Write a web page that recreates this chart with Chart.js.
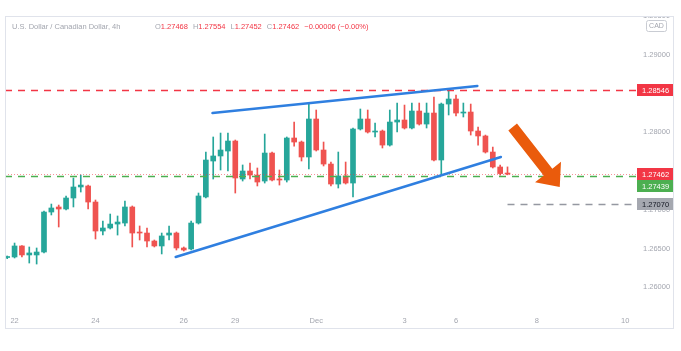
<!DOCTYPE html>
<html>
<head>
<meta charset="utf-8">
<script src="https://cdn.jsdelivr.net/npm/chart.js@4.4.1/dist/chart.umd.min.js"></script>
<style>
  html, body { margin: 0; padding: 0; background: #ffffff; }
  #wrap { width: 681px; height: 351px; position: relative; }
</style>
</head>
<body>
<div id="wrap"><canvas id="myChart"></canvas></div>
<script>
// USD/CAD 4h candles, 22 Nov -> 7 Dec
const opens = [1.26385, 1.26392, 1.26534, 1.26418, 1.26418, 1.26456, 1.26972, 1.27037, 1.27011, 1.27153,
  1.27295, 1.27308, 1.27101, 1.26727, 1.26766, 1.26817, 1.26830, 1.27037, 1.26714, 1.26701,
  1.26598, 1.26534, 1.26675, 1.26701, 1.26508, 1.26495, 1.26830, 1.27166, 1.27630, 1.27695,
  1.27759, 1.27888, 1.27398, 1.27501, 1.27449, 1.27372, 1.27733, 1.27398, 1.27385, 1.27927,
  1.27875, 1.27682, 1.28172, 1.27772, 1.27591, 1.27333, 1.27437, 1.27346, 1.28043, 1.28172,
  1.28004, 1.28017, 1.27836, 1.28133, 1.28159, 1.28056, 1.28275, 1.28107, 1.28249, 1.27643,
  1.28365, 1.28430, 1.28249, 1.28262, 1.28017, 1.27953, 1.27746, 1.27553, 1.27468]
const highs = [1.26405, 1.26572, 1.26540, 1.26521, 1.26508, 1.26985, 1.27075, 1.27062, 1.27179, 1.27411,
  1.27449, 1.27320, 1.27127, 1.26856, 1.26946, 1.26921, 1.27114, 1.27050, 1.26792, 1.26766,
  1.26611, 1.26701, 1.26792, 1.26714, 1.26521, 1.26856, 1.27217, 1.27746, 1.27940, 1.27991,
  1.27991, 1.27901, 1.27579, 1.27604, 1.27540, 1.27978, 1.27746, 1.27514, 1.27940, 1.28133,
  1.27888, 1.28378, 1.28288, 1.27875, 1.27617, 1.27746, 1.27617, 1.28056, 1.28301, 1.28288,
  1.28120, 1.28030, 1.28288, 1.28378, 1.28352, 1.28378, 1.28378, 1.28378, 1.28456, 1.28378,
  1.28546, 1.28481, 1.28378, 1.28365, 1.28069, 1.27965, 1.27810, 1.27579, 1.27554]
const lows = [1.26370, 1.26379, 1.26392, 1.26314, 1.26301, 1.26444, 1.26934, 1.26779, 1.26998, 1.27037,
  1.27230, 1.27011, 1.26624, 1.26675, 1.26753, 1.26675, 1.26792, 1.26521, 1.26611, 1.26521,
  1.26521, 1.26431, 1.26611, 1.26482, 1.26469, 1.26482, 1.26817, 1.27153, 1.27398, 1.27514,
  1.27501, 1.27217, 1.27372, 1.27398, 1.27308, 1.27346, 1.27372, 1.27320, 1.27359, 1.27823,
  1.27630, 1.27527, 1.27759, 1.27566, 1.27308, 1.27282, 1.27333, 1.27166, 1.28030, 1.27991,
  1.27940, 1.27798, 1.27823, 1.28004, 1.28043, 1.28043, 1.28094, 1.28056, 1.27630, 1.27462,
  1.28224, 1.28211, 1.28198, 1.27965, 1.27836, 1.27733, 1.27540, 1.27449, 1.27452]
const closes = [1.26392, 1.26534, 1.26418, 1.26444, 1.26456, 1.26972, 1.27024, 1.27011, 1.27153, 1.27295,
  1.27320, 1.27101, 1.26727, 1.26766, 1.26817, 1.26843, 1.27037, 1.26701, 1.26701, 1.26598,
  1.26534, 1.26663, 1.26701, 1.26508, 1.26482, 1.26830, 1.27179, 1.27643, 1.27695, 1.27772,
  1.27888, 1.27411, 1.27501, 1.27449, 1.27359, 1.27733, 1.27385, 1.27385, 1.27927, 1.27875,
  1.27682, 1.28172, 1.27772, 1.27591, 1.27333, 1.27437, 1.27346, 1.28043, 1.28172, 1.28004,
  1.28017, 1.27836, 1.28133, 1.28159, 1.28056, 1.28275, 1.28107, 1.28249, 1.27643, 1.28365,
  1.28430, 1.28249, 1.28262, 1.28017, 1.27953, 1.27746, 1.27553, 1.27468, 1.27462]

// time axis: label and the candle index where it sits
const dayLabels = ['22', '24', '26', '29', 'Dec', '3', '6', '8', '10']
const dayIndex = [1, 12, 24, 31, 42, 54, 61, 72, 84]
const priceTicks = [1.26, 1.265, 1.27, 1.275, 1.28, 1.285, 1.29]

// drawings
const resistance = 1.28546
const target = 1.27070
const greenLevel = 1.27439
const upperTrend = [[27.9, 1.28249], [63.9, 1.28598]]
const lowerTrend = [[22.9, 1.26392], [67.1, 1.27682]]
const arrowLine = [[68.7, 1.28069], [75.1, 1.27295]]

const UP = '#26a69a'
const DOWN = '#ef5350'
const FONT = '"Liberation Sans", Arial, sans-serif'

const idx = opens.map((_, i) => i)
const candleColors = idx.map(i => closes[i] >= opens[i] ? UP : DOWN)
const last = opens.length - 1

const drawings = {
  id: 'drawings',
  afterDatasetsDraw(chart) {
    const ctx = chart.ctx
    const xs = chart.scales.x, ys = chart.scales.y
    const area = chart.chartArea
    const px = v => xs.getPixelForValue(v)
    const py = v => ys.getPixelForValue(v)

    const hline = (price, x0, x1, color, w, dash) => {
      ctx.save()
      ctx.strokeStyle = color
      ctx.lineWidth = w
      ctx.setLineDash(dash)
      ctx.beginPath()
      ctx.moveTo(x0, Math.round(py(price)) + 0.5)
      ctx.lineTo(x1, Math.round(py(price)) + 0.5)
      ctx.stroke()
      ctx.restore()
    }

    ctx.save()
    ctx.beginPath()
    ctx.rect(area.left, area.top, area.right - area.left, area.bottom - area.top)
    ctx.clip()

    // current price line
    hline(closes[last], area.left, area.right, 'rgba(242,54,69,0.55)', 1, [1, 2])
    hline(resistance, area.left, area.right, '#f23645', 1.5, [7, 6])
    hline(greenLevel, area.left, area.right, '#4caf50', 1.5, [7, 6])
    hline(target, px(last), area.right, '#9598a1', 1.5, [7, 6])

    // trend lines
    ctx.strokeStyle = '#2f7fe0'
    ctx.lineWidth = 2.5
    ctx.lineCap = 'round'
    for (const seg of [upperTrend, lowerTrend]) {
      ctx.beginPath()
      ctx.moveTo(px(seg[0][0]), py(seg[0][1]))
      ctx.lineTo(px(seg[1][0]), py(seg[1][1]))
      ctx.stroke()
    }

    // arrow
    const ax0 = px(arrowLine[0][0]), ay0 = py(arrowLine[0][1])
    const ax1 = px(arrowLine[1][0]), ay1 = py(arrowLine[1][1])
    const len = Math.hypot(ax1 - ax0, ay1 - ay0)
    const ux = (ax1 - ax0) / len, uy = (ay1 - ay0) / len
    const nx = -uy, ny = ux
    const shaft = 5.5, head = 16.5, headLen = 19
    const bx = ax1 - ux * headLen, by = ay1 - uy * headLen
    ctx.fillStyle = '#ea5b0c'
    ctx.beginPath()
    ctx.moveTo(ax0 + nx * shaft, ay0 + ny * shaft)
    ctx.lineTo(bx + nx * shaft, by + ny * shaft)
    ctx.lineTo(bx + nx * head, by + ny * head)
    ctx.lineTo(ax1, ay1)
    ctx.lineTo(bx - nx * head, by - ny * head)
    ctx.lineTo(bx - nx * shaft, by - ny * shaft)
    ctx.lineTo(ax0 - nx * shaft, ay0 - ny * shaft)
    ctx.closePath()
    ctx.fill()
    ctx.restore()
  },
  afterDraw(chart) {
    const ctx = chart.ctx
    const ys = chart.scales.y
    const area = chart.chartArea
    const py = v => ys.getPixelForValue(v)
    const left = 5.5, top = 16.5, right = 673.5, bottom = 328.5

    ctx.save()
    // panel frame
    ctx.strokeStyle = '#e0e3eb'
    ctx.lineWidth = 1
    ctx.strokeRect(left, top, right - left, bottom - top)

    // clipped top tick label
    ctx.save()
    ctx.beginPath()
    ctx.rect(area.right, top + 0.5, 40, 20)
    ctx.clip()
    ctx.font = '7.5px ' + FONT
    ctx.fillStyle = '#a3a6af'
    ctx.textBaseline = 'middle'
    ctx.fillText('1.29500', area.right + 6, py(1.295))
    ctx.restore()

    // currency box
    ctx.strokeStyle = '#c9ccd3'
    ctx.beginPath()
    ctx.roundRect(646.5, 20.5, 20, 11, 2)
    ctx.stroke()
    ctx.fillStyle = '#a3a6af'
    ctx.font = '7px ' + FONT
    ctx.textAlign = 'center'
    ctx.textBaseline = 'middle'
    ctx.fillText('CAD', 656.5, 26.5)

    // price labels on the axis
    const tag = (price, y, bg, fg) => {
      ctx.fillStyle = bg
      ctx.fillRect(area.right, Math.round(y) - 6, 36, 12)
      ctx.fillStyle = fg
      ctx.font = '7.5px ' + FONT
      ctx.textAlign = 'left'
      ctx.textBaseline = 'middle'
      ctx.fillText(price.toFixed(5), area.right + 5, Math.round(y) + 0.5)
    }
    tag(resistance, py(resistance), '#f23645', '#ffffff')
    tag(closes[last], py(closes[last]), '#f23645', '#ffffff')
    tag(greenLevel, py(closes[last]) + 12, '#4caf50', '#ffffff')
    tag(target, py(target), '#a5a8b0', '#131722')

    // legend line
    ctx.font = '7.5px ' + FONT
    ctx.textAlign = 'left'
    ctx.textBaseline = 'middle'
    ctx.fillStyle = '#a3a6af'
    ctx.fillText('U.S. Dollar / Canadian Dollar, 4h', 12, 27)
    const red = '#f23645'
    let x = 155
    const parts = [['O', opens[last]], ['H', highs[last]], ['L', lows[last]], ['C', closes[last]]]
    for (const [k, v] of parts) {
      ctx.fillStyle = '#a3a6af'
      ctx.fillText(k, x, 27)
      x += ctx.measureText(k).width
      ctx.fillStyle = red
      const s = v.toFixed(5)
      ctx.fillText(s, x, 27)
      x += ctx.measureText(s).width + 5
    }
    const chg = closes[last] - closes[last - 1]
    const pct = chg / closes[last - 1] * 100
    ctx.fillStyle = red
    ctx.fillText('\u2212' + Math.abs(chg).toFixed(5) + ' (\u2212' + Math.abs(pct).toFixed(2) + '%)', x, 27)
    ctx.restore()
  }
}

new Chart(document.getElementById('myChart'), {
  type: 'bar',
  data: {
    datasets: [
      {
        label: 'wick',
        data: idx.map(i => ({ x: i, y: [lows[i], highs[i]] })),
        backgroundColor: candleColors,
        barThickness: 1,
        grouped: false,
        order: 2
      },
      {
        label: 'body',
        data: idx.map(i => ({ x: i, y: [opens[i], closes[i]] })),
        backgroundColor: candleColors,
        barThickness: 5,
        minBarLength: 1,
        grouped: false,
        order: 1
      }
    ]
  },
  options: {
    responsive: true,
    maintainAspectRatio: false,
    animation: false,
    devicePixelRatio: 1,
    layout: { padding: { left: 5, right: 8, top: 17, bottom: 23 } },
    plugins: { legend: { display: false }, tooltip: { enabled: false } },
    scales: {
      x: {
        type: 'linear',
        offset: false,
        min: -0.3,
        max: 85.6,
        grid: { display: false, drawTicks: false },
        border: { display: false },
        afterBuildTicks: s => { s.ticks = dayIndex.map(v => ({ value: v })) },
        afterFit: s => { s.height = 18 },
        ticks: {
          autoSkip: false,
          maxRotation: 0,
          padding: 6,
          color: '#a3a6af',
          font: { family: FONT, size: 7.5 },
          callback: v => dayLabels[dayIndex.indexOf(v)]
        }
      },
      y: {
        position: 'right',
        min: 1.25708,
        max: 1.29488,
        grid: { display: false, drawTicks: false },
        border: { display: false },
        afterBuildTicks: s => { s.ticks = priceTicks.map(v => ({ value: v })) },
        afterFit: s => { s.width = 36 },
        ticks: {
          padding: 6,
          color: '#a3a6af',
          font: { family: FONT, size: 7.5 },
          callback: v => v.toFixed(5)
        }
      }
    }
  },
  plugins: [drawings]
})
</script>
</body>
</html>
